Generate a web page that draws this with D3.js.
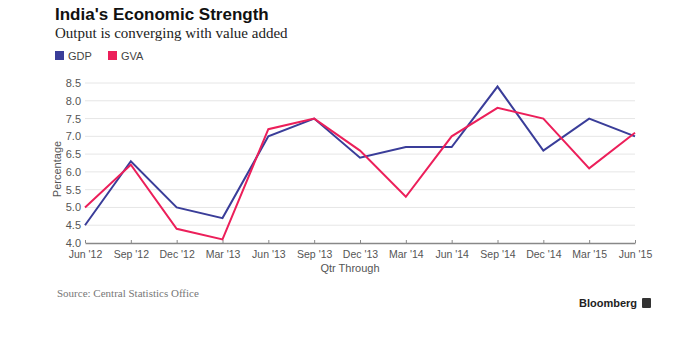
<!DOCTYPE html>
<html>
<head>
<meta charset="utf-8">
<script src="https://cdn.jsdelivr.net/npm/d3@7"></script>
<style>
  body { margin: 0; background: #fff; }
  svg text { font-family: 'Liberation Sans', Arial, sans-serif; }
</style>
</head>
<body>
<div class="container"></div>
<script>
const quarters = ["Jun '12", "Sep '12", "Dec '12", "Mar '13", "Jun '13", "Sep '13", "Dec '13",
  "Mar '14", "Jun '14", "Sep '14", "Dec '14", "Mar '15", "Jun '15"]
const gdp = [4.5, 6.3, 5.0, 4.7, 7.0, 7.5, 6.4, 6.7, 6.7, 8.4, 6.6, 7.5, 7.0]
const gva = [5.0, 6.2, 4.4, 4.1, 7.2, 7.5, 6.6, 5.3, 7.0, 7.8, 7.5, 6.1, 7.1]
const yTicks = [4.0, 4.5, 5.0, 5.5, 6.0, 6.5, 7.0, 7.5, 8.0, 8.5]

const w = 692
const h = 338
const plotLeft = 85
const plotRight = 635
const plotTop = 83
const plotBottom = 243

const series = [
  { name: 'GDP', values: gdp, color: '#3a3d99' },
  { name: 'GVA', values: gva, color: '#ec1f5a' }
]

const serif = "'Liberation Serif', 'DejaVu Serif', serif"

const svg = d3.select('.container')
  .append('svg')
  .attr('width', w)
  .attr('height', h)

svg.append('text')
  .text("India's Economic Strength")
  .attr('x', 55)
  .attr('y', 20)
  .attr('font-size', 17)
  .attr('font-weight', 'bold')
  .attr('fill', '#111')

svg.append('text')
  .text('Output is converging with value added')
  .attr('x', 55)
  .attr('y', 38)
  .attr('font-size', 15)
  .attr('fill', '#222')
  .style('font-family', serif)

const legend = svg.selectAll('.legend')
  .data(series)
  .enter()
  .append('g')
  .attr('transform', (d, i) => `translate(${55 + i * 53}, 51)`)

legend.append('rect')
  .attr('width', 9)
  .attr('height', 9)
  .attr('fill', d => d.color)

legend.append('text')
  .text(d => d.name)
  .attr('x', 13)
  .attr('y', 8.5)
  .attr('font-size', 11)
  .attr('fill', '#444')

const xScale = d3.scalePoint()
  .domain(quarters)
  .range([plotLeft, plotRight])

const yScale = d3.scaleLinear()
  .domain([4.0, 8.5])
  .range([plotBottom, plotTop])

// gridlines
svg.append('g')
  .selectAll('line')
  .data(yTicks.slice(1))
  .enter()
  .append('line')
  .attr('x1', plotLeft)
  .attr('x2', plotRight)
  .attr('y1', d => yScale(d))
  .attr('y2', d => yScale(d))
  .attr('stroke', '#e6e6e6')
  .attr('stroke-width', 1)

const yAxis = d3.axisLeft(yScale)
  .tickValues(yTicks)
  .tickFormat(d3.format('.1f'))
  .tickSize(0)
  .tickPadding(4)

const yg = svg.append('g')
  .attr('transform', `translate(${plotLeft}, 0)`)
  .call(yAxis)
yg.select('.domain').remove()
yg.selectAll('text')
  .attr('font-size', 11)
  .attr('fill', '#555')
  .style('font-family', "'Liberation Sans', Arial, sans-serif")

const xAxis = d3.axisBottom(xScale)
  .tickSizeInner(-3)
  .tickSizeOuter(0)
  .tickPadding(8)

const xg = svg.append('g')
  .attr('transform', `translate(0, ${plotBottom})`)
  .call(xAxis)
xg.select('.domain').attr('stroke', '#888').attr('stroke-width', 1.5)
xg.selectAll('.tick line').attr('stroke', '#888')
xg.selectAll('text')
  .attr('font-size', 10.5)
  .attr('fill', '#555')
  .style('font-family', "'Liberation Sans', Arial, sans-serif")

const line = d3.line()
  .x((d, i) => xScale(quarters[i]))
  .y(d => yScale(d))

svg.selectAll('.series')
  .data(series)
  .enter()
  .append('path')
  .attr('d', d => line(d.values))
  .attr('fill', 'none')
  .attr('stroke', d => d.color)
  .attr('stroke-width', 2)
  .attr('stroke-linejoin', 'miter')

svg.append('text')
  .text('Percentage')
  .attr('transform', `translate(61, ${(plotTop + plotBottom) / 2 + 6}) rotate(-90)`)
  .attr('text-anchor', 'middle')
  .attr('font-size', 11)
  .attr('fill', '#555')

svg.append('text')
  .text('Qtr Through')
  .attr('x', 350)
  .attr('y', 272)
  .attr('text-anchor', 'middle')
  .attr('font-size', 11)
  .attr('fill', '#555')

svg.append('text')
  .text('Source: Central Statistics Office')
  .attr('x', 57)
  .attr('y', 297)
  .attr('font-size', 11)
  .attr('fill', '#777')
  .style('font-family', serif)

svg.append('text')
  .text('Bloomberg')
  .attr('x', 637)
  .attr('y', 307)
  .attr('text-anchor', 'end')
  .attr('font-size', 11)
  .attr('font-weight', 'bold')
  .attr('fill', '#222')

svg.append('rect')
  .attr('x', 642)
  .attr('y', 298)
  .attr('width', 9)
  .attr('height', 10)
  .attr('rx', 1)
  .attr('fill', '#333')
</script>
</body>
</html>
